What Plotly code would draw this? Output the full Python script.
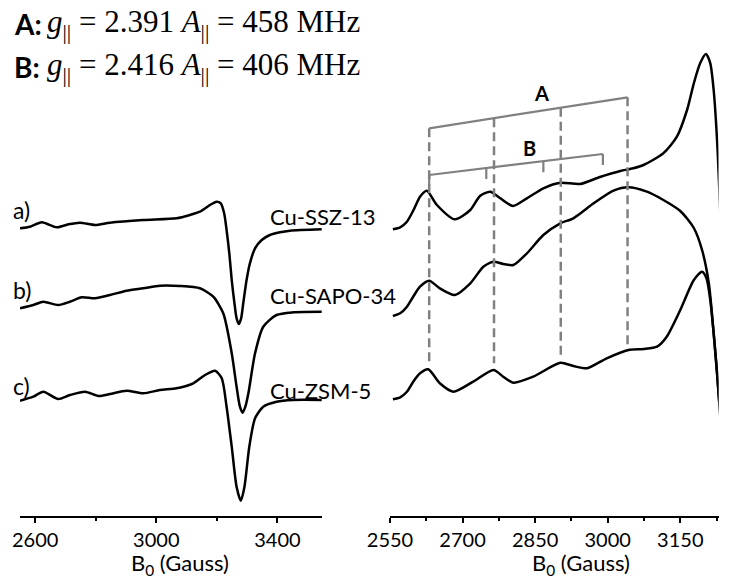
import plotly.graph_objects as go

# ---------------- data ----------------
# Left panel: full spectra (field in Gauss, signal in arbitrary units, baseline-relative)
left_field_a = [2550, 2583, 2622, 2671, 2710, 2748, 2798, 2847, 2957, 3067, 3111, 3144, 3177, 3199, 3213, 3224,
                3232, 3241, 3249, 3258, 3265, 3272, 3280, 3287, 3298, 3309, 3326, 3348, 3375, 3408, 3441, 3546]
left_sig_a = [-0.3, 1.3, 5.7, 0.7, 3.7, 5.3, 3.0, 5.3, 8.0, 9.7, 13, 16.3, 23, 26.3, 24.7, 14.7,
              -2, -25.3, -52, -75.3, -90.3, -96, -90.3, -75.3, -52, -35.3, -20.3, -12, -7, -4.3, -2.7, -1.3]

left_field_b = [2550, 2594, 2627, 2676, 2715, 2754, 2798, 2847, 2902, 2957, 3012, 3078, 3144, 3188, 3221,
                3249, 3265, 3276, 3285, 3294, 3304, 3326, 3353, 3397, 3452, 3546]
left_sig_b = [-0.3, 3, 6.3, 3, 6.3, 10.7, 9.7, 13, 17.3, 19.7, 22.3, 22, 19.7, 11.3, -5.3,
              -45.3, -78.7, -98.7, -104.7, -98.7, -85.3, -45.3, -18.7, -7, -4.3, -3.7]

left_field_c = [2550, 2594, 2627, 2676, 2715, 2765, 2809, 2847, 2902, 2957, 3012, 3067, 3122, 3161, 3194,
                3216, 3232, 3249, 3265, 3279, 3291, 3307, 3326, 3353, 3397, 3452, 3546]
left_sig_c = [0, 4, 9, 1.7, 5.7, 9, 4.7, 6.7, 10, 7.4, 10.7, 12.4, 17.4, 25.7, 30,
              22.4, -6, -46, -86, -100, -86, -46, -17.6, -6, -1, 0.7, 0.7]

# Right panel: expanded parallel region
right_field_a = [2556, 2571, 2585, 2598, 2612, 2626, 2647, 2684, 2716, 2736, 2757, 2778, 2804, 2833, 2867, 2902,
                 2943, 2984, 3026, 3043, 3053, 3074, 3115, 3143, 3164, 3178, 3191, 3203, 3212, 3219, 3226, 3233]
right_sig_a = [0, 2, 7.6, 18.6, 32.6, 38.6, 24.3, 10, 19.3, 33.3, 37.6, 31, 23.3, 31, 41, 46.6,
               45.3, 52.3, 58.3, 60, 61, 64.3, 76, 92.6, 119.3, 146, 166, 175.3, 166, 139.3, 89.3, 12.6]

right_field_b = [2556, 2571, 2585, 2598, 2612, 2631, 2653, 2684, 2716, 2743, 2764, 2784, 2805, 2833, 2867, 2902,
                 2929, 2971, 3012, 3043, 3081, 3115, 3150, 3178, 3195, 3209, 3219, 3226, 3233]
right_sig_b = [0, 2.7, 9.3, 19.3, 29.3, 35.3, 27.7, 21, 32.7, 49.3, 54.3, 52, 51, 62.7, 81, 92.7,
               97.7, 112.7, 125.3, 128.7, 124.3, 116, 105, 88, 66, 32.7, -17.3, -57.3, -102.3]

right_field_c = [2556, 2571, 2585, 2598, 2612, 2629, 2653, 2681, 2722, 2764, 2784, 2805, 2846, 2902, 2929, 2957,
                 2998, 3043, 3074, 3102, 3122, 3150, 3178, 3195, 3204, 3212, 3219, 3226, 3233]
right_sig_c = [0, 2, 7.6, 17.6, 26, 30, 16, 7.6, 17.6, 29.3, 22.6, 16.6, 22.6, 36.6, 33.3, 31,
               41, 49.3, 50.3, 52.6, 62.6, 89.3, 119.3, 127.6, 121.3, 99.3, 66.3, 26.3, -19]

sample_tags = ["a)", "b)", "c)"]
sample_names = ["Cu-SSZ-13", "Cu-SAPO-34", "Cu-ZSM-5"]
left_offsets = [357, 277, 184.3]
right_offsets = [355.7, 269, 185.7]

left_ticks = [2600, 3000, 3400]
left_minor = [2800, 3200]
right_ticks = [2550, 2700, 2850, 3000, 3150]
right_minor = [2625, 2775, 2925, 3075, 3225]

# hyperfine line positions (Gauss)
lines_A = [2631, 2765, 2903, 3041]
lines_B = [2631, 2749, 2867, 2990]

# ---------------- figure ----------------
W, H = 730, 585
SANS = "Lato"
SERIF = "Liberation Serif"

fig = go.Figure()

left = [(left_field_a, left_sig_a), (left_field_b, left_sig_b), (left_field_c, left_sig_c)]
right = [(right_field_a, right_sig_a), (right_field_b, right_sig_b), (right_field_c, right_sig_c)]

for (fx, sy), off in zip(left, left_offsets):
    fig.add_trace(go.Scatter(x=fx, y=[v + off for v in sy], mode="lines",
                             line=dict(color="black", width=2.5, shape="spline", smoothing=0.7),
                             xaxis="x", yaxis="y", showlegend=False, hoverinfo="skip"))
for (fx, sy), off in zip(right, right_offsets):
    fig.add_trace(go.Scatter(x=fx, y=[v + off for v in sy], mode="lines",
                             line=dict(color="black", width=2.5, shape="spline", smoothing=0.7),
                             xaxis="x2", yaxis="y2", showlegend=False, hoverinfo="skip"))

ydom = [69 / H, 1]
yr = [69, 585]

axis_common = dict(showline=True, linecolor="black", linewidth=2, ticks="outside", ticklen=5,
                   tickwidth=2, tickcolor="black", showgrid=False, zeroline=False,
                   tickfont=dict(family=SANS, size=20, color="black"), automargin=False,
                   ticklabelstandoff=0)

fig.update_layout(
    width=W, height=H,
    margin=dict(l=0, r=0, t=0, b=0),
    plot_bgcolor="white", paper_bgcolor="white",
    xaxis=dict(domain=[20 / W, 322 / W], range=[2550, 3547], tickvals=left_ticks,
               minor=dict(tickvals=left_minor, ticks="outside", ticklen=3, tickwidth=2, tickcolor="black"),
               anchor="y", **axis_common),
    yaxis=dict(domain=ydom, range=yr, visible=False, anchor="x"),
    xaxis2=dict(domain=[390 / W, 718.5 / W], range=[2550, 3229], tickvals=right_ticks,
                minor=dict(tickvals=right_minor, ticks="outside", ticklen=3, tickwidth=2, tickcolor="black"),
                anchor="y2", **axis_common),
    yaxis2=dict(domain=ydom, range=yr, visible=False, anchor="x2"),
)

# ---- hyperfine brackets (right panel) ----
gray = "#808080"
A_top = [456.7, 487.7]
A_bottom = [221.7, 221.7, 228.3, 236.7]
fig.add_shape(type="line", xref="x2", yref="y2", x0=lines_A[0], x1=lines_A[-1], y0=A_top[0], y1=A_top[1],
              line=dict(color=gray, width=2.2))
for xv, yb in zip(lines_A, A_bottom):
    yt = A_top[0] + (xv - lines_A[0]) / (lines_A[-1] - lines_A[0]) * (A_top[1] - A_top[0])
    fig.add_shape(type="line", xref="x2", yref="y2", x0=xv, x1=xv, y0=yt, y1=yb,
                  line=dict(color=gray, width=2.5, dash="9px,5px"))

B_top = [410, 431]
fig.add_shape(type="line", xref="x2", yref="y2", x0=lines_B[0], x1=lines_B[-1], y0=B_top[0], y1=B_top[1],
              line=dict(color=gray, width=2.2))
for xv in lines_B:
    yt = B_top[0] + (xv - lines_B[0]) / (lines_B[-1] - lines_B[0]) * (B_top[1] - B_top[0])
    fig.add_shape(type="line", xref="x2", yref="y2", x0=xv, x1=xv, y0=yt, y1=yt - 11,
                  line=dict(color=gray, width=2.2))

fig.add_annotation(x=2864, y=491.7, xref="x2", yref="y2", text="<b>A</b>", showarrow=False,
                   font=dict(family=SANS, size=20, color="black"), xanchor="center", yanchor="middle")
fig.add_annotation(x=2838, y=437.5, xref="x2", yref="y2", text="<b>B</b>", showarrow=False,
                   font=dict(family=SANS, size=20, color="black"), xanchor="center", yanchor="middle")

# ---- text ----
def P(xp, yp):
    return xp / W, 1 - yp / H

header = [("A:", "<i>g</i><sub>||</sub> = 2.391 <i>A</i><sub>||</sub> = 458 MHz", 24),
          ("B:", "<i>g</i><sub>||</sub> = 2.416 <i>A</i><sub>||</sub> = 406 MHz", 67)]
for lab, txt, yc in header:
    x, y = P(12, yc)
    fig.add_annotation(x=x, y=y, xref="paper", yref="paper", text=f"<b>{lab}</b>", showarrow=False,
                       font=dict(family=SANS, size=28, color="black"), xanchor="left", yanchor="middle")
    x, y = P(45, yc)
    fig.add_annotation(x=x, y=y, xref="paper", yref="paper", text=txt, showarrow=False,
                       font=dict(family=SERIF, size=31, color="black"), xanchor="left", yanchor="middle")

for tag, yc in zip(sample_tags, [210, 290, 386]):
    x, y = P(11, yc)
    fig.add_annotation(x=x, y=y, xref="paper", yref="paper", text=tag, showarrow=False,
                       font=dict(family=SANS, size=23, color="black"), xanchor="left", yanchor="middle")

for name, yc in zip(sample_names, [216, 295, 390]):
    x, y = P(268, yc)
    fig.add_annotation(x=x, y=y, xref="paper", yref="paper", text=name, showarrow=False,
                       font=dict(family=SANS, size=22, color="black"), xanchor="left", yanchor="middle")

for xc in [180, 581]:
    x, y = P(xc, 564)
    fig.add_annotation(x=x, y=y, xref="paper", yref="paper", text="B<sub>0</sub> (Gauss)", showarrow=False,
                       font=dict(family=SANS, size=22, color="black"), xanchor="center", yanchor="middle")

fig.write_html("out.html")
